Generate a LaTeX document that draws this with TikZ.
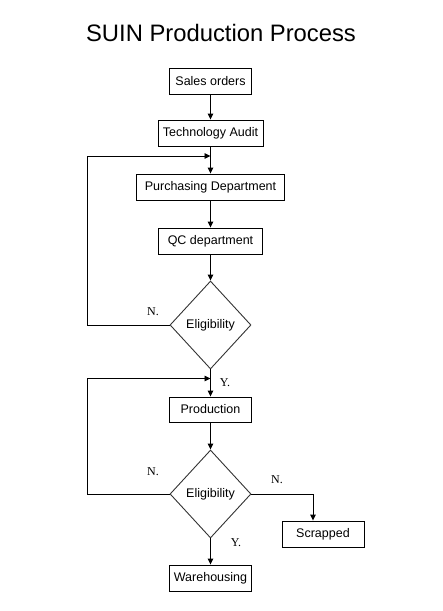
\documentclass[tikz,border=0pt]{standalone}
\usepackage{fontspec}
\setmainfont{Liberation Sans}
\newfontfamily\serifN{Liberation Serif}
\usetikzlibrary{shapes.geometric,arrows.meta}
\begin{document}
\begin{tikzpicture}[x=1pt,y=-1pt,
  box/.style={draw=black,line width=0.9pt,rectangle,inner sep=0pt,minimum height=26pt,font=\fontsize{12.5}{14}\selectfont},
  dia/.style={draw=black!80,line width=0.9pt,diamond,inner sep=0pt,minimum width=81pt,minimum height=88pt,font=\fontsize{12.5}{14}\selectfont},
  lbl/.style={inner sep=0pt,font=\serifN\fontsize{12}{14}\selectfont},
  conn/.style={line width=0.9pt,-{Triangle[length=6pt,width=5.5pt]}},
  plain/.style={line width=0.9pt}]
\useasboundingbox (0,0) rectangle (443,611);
\node[inner sep=0pt,font=\fontsize{23.8}{28}\selectfont] (title) at (221,33) {SUIN Production Process};
\node[box,minimum width=82pt] (sales) at (210.5,81) {Sales orders};
\node[box,minimum width=105pt] (tech) at (210.5,133) {Technology Audit};
\node[box,minimum width=148pt] (purch) at (210.5,187) {Purchasing Department};
\node[box,minimum width=104pt] (qc) at (210.5,241) {QC department};
\node[dia] (d1) at (210.5,325) {\makebox[0pt]{Eligibility}};
\node[box,minimum width=82pt,minimum height=25pt] (prod) at (210.5,409.5) {Production};
\node[dia] (d2) at (210.5,494) {\makebox[0pt]{Eligibility}};
\node[box,minimum width=82pt] (scrap) at (323,534) {Scrapped};
\node[box,minimum width=82pt] (ware) at (210.5,578) {Warehousing};
\coordinate (m1) at (210.5,156);
\coordinate (l1b) at (87,156);
\coordinate (m2) at (210.5,378.5);
\coordinate (l2b) at (87,378.5);
\coordinate (r2) at (313,494);
\draw[conn] (sales) -- (tech);
\draw[conn] (tech) -- (purch);
\draw[conn] (purch) -- (qc);
\draw[conn] (qc) -- (d1);
\draw[conn] (d1.west) -- (d1.west -| l1b) -- (l1b) -- (m1);
\draw[conn] (d1) -- (prod);
\draw[conn] (prod) -- (d2);
\draw[conn] (d2.west) -- (d2.west -| l2b) -- (l2b) -- (m2);
\draw[conn] (d2.east) -- (d2.east -| r2) -- (scrap.north -| r2);
\draw[conn] (d2) -- (ware);
\node[lbl] (n1) at (153,312) {N.};
\node[lbl] (y1) at (225,383) {Y.};
\node[lbl] (n2) at (153,472) {N.};
\node[lbl] (n3) at (277,480) {N.};
\node[lbl] (y2) at (236,543) {Y.};
\end{tikzpicture}
\end{document}
